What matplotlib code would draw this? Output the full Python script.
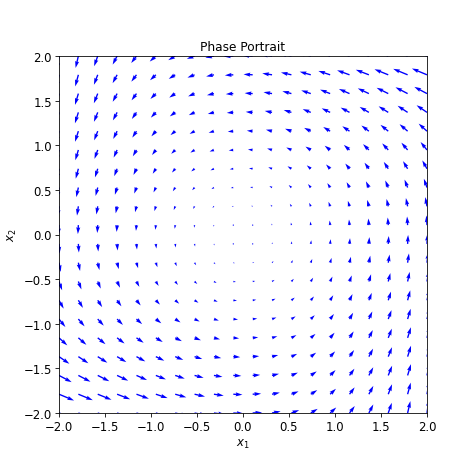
import numpy as np
import matplotlib
matplotlib.use("Agg")
import matplotlib.pyplot as plt

x1_vals = np.linspace(-2, 2, 20)
x2_vals = np.linspace(-2, 2, 20)
beta = 0.2
gamma = 0.1

X1, X2 = np.meshgrid(x1_vals, x2_vals)
U = -X2 - beta * X1 * X2**2
V = X1 - gamma * X1**2 * X2

fig = plt.figure(figsize=(6.5, 6.5), dpi=72.92)
ax = fig.add_axes([59/474, 1-414/474, (427-59)/474, (414-57)/474])
ax.quiver(X1, X2, U, V, color='b', scale=75, width=0.0037)
ax.set_xlim(-2, 2)
ax.set_ylim(-2, 2)
ax.tick_params(labelsize=11.5)
ax.set_xlabel('$x_1$', fontsize=11.5)
ax.set_ylabel('$x_2$', fontsize=11.5)
ax.set_title('Phase Portrait', fontsize=12)
fig.savefig('out.png')
